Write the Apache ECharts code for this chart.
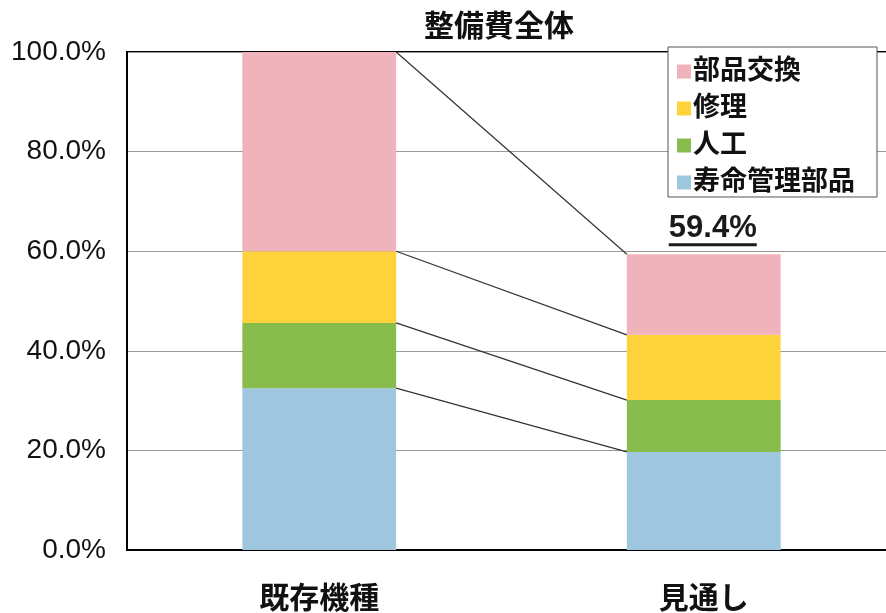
<!DOCTYPE html>
<html><head><meta charset="utf-8">
<script src="https://cdn.jsdelivr.net/npm/echarts@6/dist/echarts.min.js"></script>
<style>html,body{margin:0;padding:0;background:#fff}#c{width:886px;height:613px}</style>
</head><body><div id="c"></div>
<script>
const categories = ['既存機種', '見通し'];
const lifePartsValues = [32.5, 19.7];   // 寿命管理部品
const laborValues = [13.1, 10.4];       // 人工
const repairValues = [14.4, 13.1];      // 修理
const partsExchangeValues = [40.0, 16.2]; // 部品交換
const yTicks = [0, 20, 40, 60, 80, 100];
const seriesNames = ['寿命管理部品', '人工', '修理', '部品交換'];
const colors = ['#9ec6de', '#88bd4e', '#fdd23a', '#f0b3bc'];

const FONT = "'Liberation Sans', 'Noto Sans CJK JP', sans-serif";
const stacks = [lifePartsValues, laborValues, repairValues, partsExchangeValues];
const connectors = [];
let c0 = 0, c1 = 0;
stacks.forEach(s => { c0 += s[0]; c1 += s[1]; connectors.push([c0, c1]); });
const total2 = c1;

const chart = echarts.init(document.getElementById('c'));
const barSeries = stacks.map((vals, i) => ({
  name: seriesNames[i], type: 'bar', stack: 'a', data: vals, barWidth: '40%',
  itemStyle: { color: colors[i] }, z: 3,
  label: i === 3 ? {
    show: true, position: 'top', distance: 8, offset: [9, 0],
    formatter: p => p.dataIndex === 1 ? '{v|' + total2.toFixed(1) + '%}\n{u| }' : '',
    rich: {
      v: { fontSize: 31, fontWeight: 'bold', color: '#1a1a1a', fontFamily: FONT, lineHeight: 30 },
      u: { fontSize: 2, lineHeight: 3, height: 3, width: 88, backgroundColor: '#1a1a1a' }
    }
  } : { show: false }
}));

chart.setOption({
  animation: false,
  title: { text: '整備費全体', left: 419, top: 8,
    textStyle: { fontSize: 30, fontWeight: 'bold', color: '#111', fontFamily: FONT } },
  legend: {
    data: ['部品交換', '修理', '人工', '寿命管理部品'],
    orient: 'vertical', left: 668, top: 47,
    backgroundColor: '#fff', borderColor: '#555', borderWidth: 1,
    padding: [11, 22, 1, 9], itemWidth: 14, itemHeight: 14, itemGap: 10,
    textStyle: { fontSize: 27, fontWeight: 'bold', color: '#111', fontFamily: FONT, padding: [0, 0, 0, -3] },
    icon: 'rect', z: 10
  },
  grid: { left: 127, right: -10, top: 52, bottom: 63, outerBoundsMode: 'none',
    show: true, borderColor: '#000', borderWidth: 2, backgroundColor: '#fff' },
  xAxis: {
    type: 'category', data: categories,
    axisLine: { lineStyle: { color: '#000', width: 2 } }, axisTick: { show: false },
    axisLabel: { fontSize: 30, fontWeight: 'bold', color: '#111', fontFamily: FONT, margin: 35 }
  },
  yAxis: {
    type: 'value', min: yTicks[0], max: yTicks[yTicks.length - 1], interval: 20,
    axisLine: { show: true, lineStyle: { color: '#000', width: 2 } }, axisTick: { show: false },
    splitLine: { lineStyle: { color: '#999', width: 1 } },
    axisLabel: { fontSize: 28, color: '#111', fontFamily: FONT, margin: 21, formatter: v => v.toFixed(1) + '%' }
  },
  series: barSeries.concat([{
    type: 'custom', z: 4, silent: true,
    data: connectors,
    renderItem: (params, api) => {
      const p1 = api.coord([0, api.value(0)]);
      const p2 = api.coord([1, api.value(1)]);
      const hw = api.size([1, 0])[0] * 0.2;
      return { type: 'line', shape: { x1: p1[0] + hw, y1: p1[1], x2: p2[0] - hw, y2: p2[1] },
        style: { stroke: '#333', lineWidth: 1.2 } };
    },
    encode: { x: -1, y: [0, 1] }
  }])
});
</script></body></html>
